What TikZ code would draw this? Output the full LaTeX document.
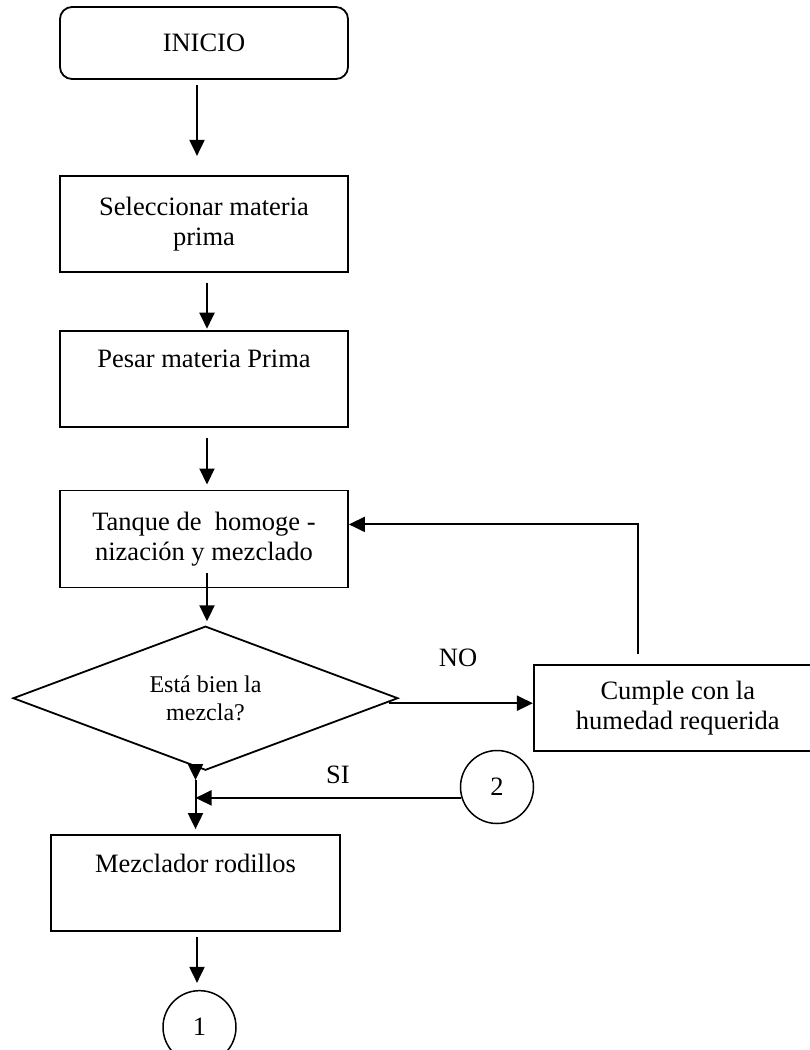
\documentclass[tikz,border=0pt]{standalone}
\usepackage{fontspec}
\setmainfont{Liberation Serif}
\usetikzlibrary{positioning,shapes.geometric,arrows.meta}

\begin{document}
\begin{tikzpicture}[x=1pt,y=-1pt,
  flow/.style={rectangle, draw, line width=1.8pt, minimum width=288pt, minimum height=96pt,
    inner sep=0pt, align=center, font=\fontsize{26.5}{30}\selectfont},
  startbox/.style={flow, rounded corners=12pt, minimum height=72pt},
  decision/.style={diamond, draw, line width=1.8pt, shape aspect=2.67, minimum width=385pt,
    minimum height=144pt, inner sep=0pt, align=center, font=\fontsize{24}{28}\selectfont},
  connector/.style={circle, draw, line width=1.5pt, minimum size=73pt, inner sep=0pt,
    font=\fontsize{26.5}{30}\selectfont},
  lbl/.style={font=\fontsize{26.5}{30}\selectfont, inner sep=0pt},
  arr/.style={-{Triangle[length=16pt,width=15pt]}, line width=2pt}
]
\useasboundingbox (0,0) rectangle (809,1050);
\node[startbox] (ini) at (204,43) {INICIO};
\node[flow, below=95pt of ini] (sel) {Seleccionar materia\\prima};
\node[flow, below=57pt of sel] (pes) {Pesar materia Prima\\\strut};
\node[flow, below=62pt of pes, minimum height=97pt] (tan) {Tanque de\ \ homoge -\\nización y mezclado};
\node[decision, below=37pt of tan, xshift=1.5pt] (dec) {Está bien la\\mezcla?};
\node[flow, right=134pt of dec, yshift=-10pt, minimum height=86pt] (cum) {Cumple con la\\humedad requerida};
\node[flow, below=63pt of dec, xshift=-10pt, minimum width=289pt] (mez) {Mezclador rodillos\\\strut};
\node[connector] (c2) at (497,787) {2};
\node[connector, below=58pt of mez, xshift=4pt] (c1) {1};
\node[lbl] (no) at (458,658) {NO};
\node[lbl] (si) at (338,775) {SI};
\coordinate (split) at (dec.south -| mez.north);
% main line
\draw[arr, shorten <=5pt, shorten >=19pt] ([xshift=-7pt]ini.south) -- ([xshift=-7pt]sel.north);
\draw[arr, shorten <=10pt, shorten >=1pt] ([xshift=3pt]sel.south) -- ([xshift=3pt]pes.north);
\draw[arr, shorten <=10pt, shorten >=5pt] ([xshift=3pt]pes.south) -- ([xshift=3pt]tan.north);
\draw[arr, shorten <=-15pt, shorten >=4pt] ([xshift=3pt]tan.south) -- ([xshift=3pt]tan.south |- dec.north);
% NO branch and return
\draw[arr] ([xshift=-10pt,yshift=-5pt]dec.east) -- ([yshift=-5pt]dec.east -| cum.west);
\draw[arr, shorten <=10pt] ([xshift=-40pt]cum.north) |- ([yshift=14.5pt]tan.east);
% SI branch
\draw[arr] ([yshift=5pt]split) -- ([yshift=-9pt]split);
\draw[arr, shorten >=5pt] ([yshift=-9pt]split) -- (mez.north);
\draw[arr] (c2.197) -- (c2.197 -| mez.north);
\draw[arr, shorten <=5pt, shorten >=7pt] ([xshift=1.5pt]mez.south) -- ([xshift=1.5pt]mez.south |- c1.north);
\end{tikzpicture}
\end{document}
